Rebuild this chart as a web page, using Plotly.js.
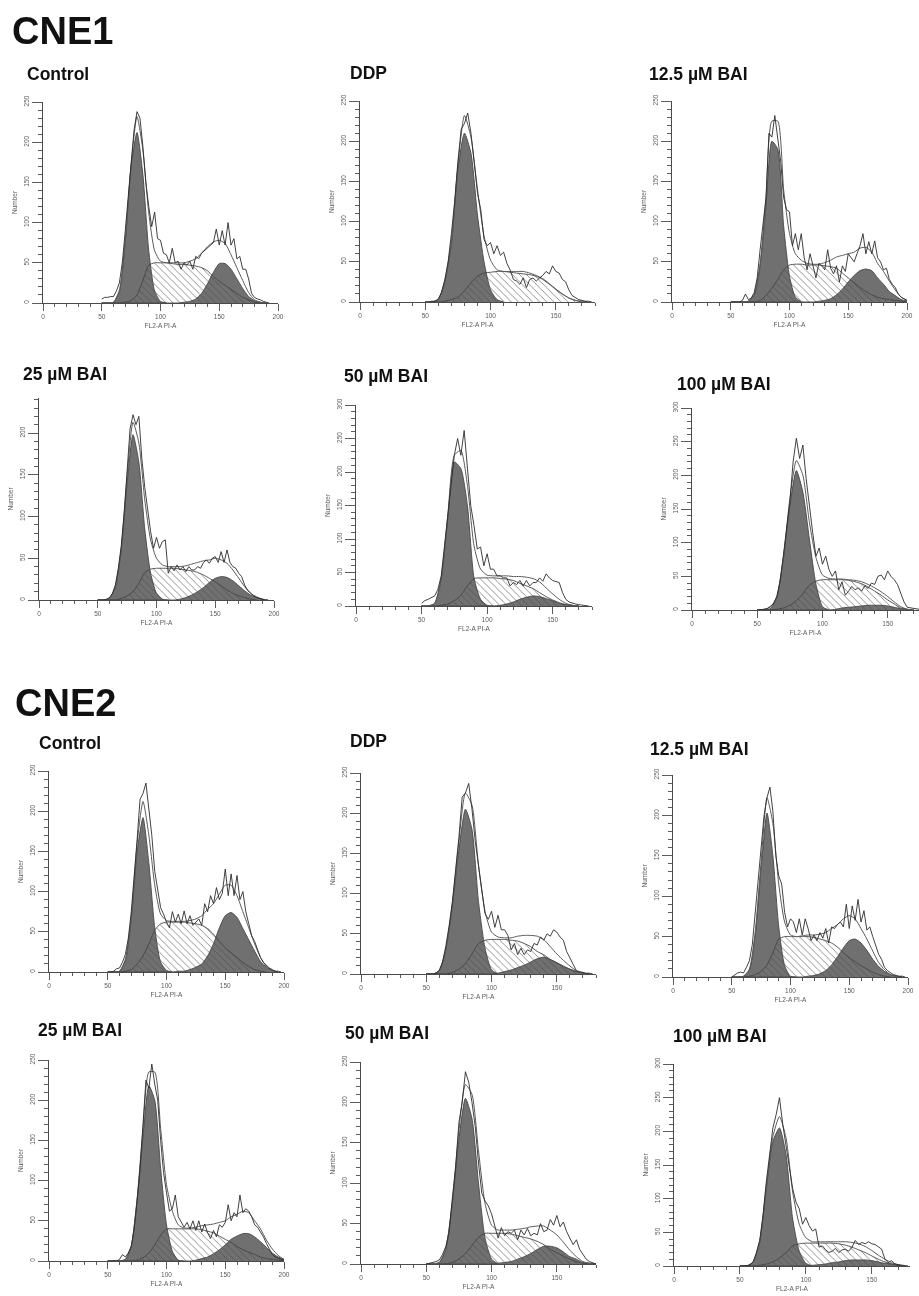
<!DOCTYPE html>
<html><head><meta charset="utf-8">
<script src="https://cdn.plot.ly/plotly-3.0.1.min.js"></script>
<style>html,body{margin:0;padding:0;background:#fff}#chart{width:919px;height:1296px;filter:blur(0.6px)}</style>
</head><body><div id="chart"></div>
<script>
const xModel=[50,55,60,65,70,75,80,85,90,95,100,105,110,115,120,125,130,135,140,145,150,155,160,165,170,175,180,185,190,195,200];
const xHist=[50,52.5,55,57.5,60,62.5,65,67.5,70,72.5,75,77.5,80,82.5,85,87.5,90,92.5,95,97.5,100,102.5,105,107.5,110,112.5,115,117.5,120,122.5,125,127.5,130,132.5,135,137.5,140,142.5,145,147.5,150,152.5,155,157.5,160,162.5,165,167.5,170,172.5,175,177.5,180,182.5,185,187.5,190,192.5,195,197.5,200];
const groupTitles=["CNE1","CNE2"];
const panelTitles=["Control","DDP","12.5 µM BAI","25 µM BAI","50 µM BAI","100 µM BAI","Control","DDP","12.5 µM BAI","25 µM BAI","50 µM BAI","100 µM BAI"];

const p1g1=[0,0,1,14,75,170,212,160,65,15,2,0];
const p1s=[0,0,0,0,1,3,10,28,47,50,50,50,49,48,48,47,46,44,40,33,27,22,17,12,7,4,1,0];
const p1g2=[0,0,0,0,0,0,0,0,0,0,0,0,0,0,1,2,5,12,24,38,49,49,42,30,18,8,3,1,0];
const p1fit=[0,0,1,16,78,172,232,190,112,65,52,50,50,50,50,52,55,62,70,76,78,74,60,44,28,13,4,1,0];
const p1hist=[5,7,7,8,8,15,25,50,90,130,170,215,238,230,195,150,120,95,113,80,78,62,60,50,68,50,52,42,50,47,52,42,58,55,62,65,68,72,75,92,72,90,72,100,72,80,55,58,42,42,30,12,7,5,4,2,1,0];

const p2g1=[0,0,3,25,72,165,210,185,108,50,15,3,0];
const p2s=[0,0,0,1,3,6,14,24,32,36,37,38,38,37,36,35,34,32,28,22,16,10,5,2,1,0];
const p2g2=[];
const p2fit=[0,0,3,27,76,170,232,205,140,82,52,40,38,38,38,38,36,33,29,23,16,10,5,2,0];
const p2hist=[0,0,1,1,4,12,28,50,85,125,175,215,222,235,210,170,135,115,78,70,74,60,70,58,62,48,40,28,26,22,30,18,28,30,26,30,33,38,35,45,38,36,28,25,15,8,5,3,2,1,1,0];

const p3g1=[0,0,0,1,8,45,120,200,190,95,32,6,0];
const p3s=[0,0,0,0,0,2,8,17,28,40,46,47,47,46,46,46,45,44,42,36,30,24,18,13,9,6,4,3,2,1,0];
const p3g2=[0,0,0,0,0,0,0,0,0,0,0,0,0,0,0,1,2,4,9,16,25,33,39,41,39,30,22,13,8,3,1];
const p3fit=[0,0,0,1,10,48,130,225,225,140,85,60,52,48,47,47,49,52,56,58,60,62,67,68,62,48,38,26,15,6,2];
const p3hist=[0,0,0,0,2,10,3,5,12,30,65,95,130,210,205,232,205,175,130,115,112,70,85,65,85,55,40,60,45,30,48,45,40,65,42,35,45,25,45,38,60,55,50,60,70,85,60,75,60,76,55,50,40,42,28,22,18,10,6,4,2];

const p4g1=[0,0,2,15,60,140,198,165,85,32,8,1,0];
const p4s=[0,0,0,0,2,5,10,20,33,37,38,38,38,38,37,36,35,33,30,26,22,17,12,8,5,3,1,0];
const p4g2=[0,0,0,0,0,0,0,0,0,0,0,0,0,0,1,3,6,10,15,21,26,28,27,23,17,11,6,3,1,0];
const p4fit=[0,0,2,16,62,148,213,188,120,72,50,42,40,40,40,41,43,45,47,48,50,48,44,36,26,16,8,4,1,0];
const p4hist=[0,0,0,1,3,8,18,38,65,105,150,205,222,210,220,170,135,105,82,62,75,62,70,72,32,40,35,42,36,40,34,40,36,36,40,38,45,48,44,50,52,45,58,45,60,45,40,38,32,28,18,12,8,5,3,2,1,0];

const p5g1=[0,0,4,40,130,215,205,150,42,10,1,0];
const p5s=[0,0,0,1,3,8,16,30,41,42,42,42,41,40,38,34,30,26,20,14,9,5,2,1,0];
const p5g2=[0,0,0,0,0,0,0,0,0,0,0,0,1,3,6,10,13,15,14,11,8,4,2,1,0];
const p5fit=[0,0,4,42,135,225,232,180,90,55,46,45,45,45,44,44,43,41,36,27,18,10,4,1,0];
const p5hist=[4,8,10,12,15,25,45,90,135,180,225,250,225,262,200,150,120,85,88,60,78,55,55,45,45,42,42,30,35,32,38,30,38,30,35,35,42,37,48,42,38,36,35,20,10,6,4,3,2,1,1,0];

const p6g1=[0,0,2,18,75,155,207,175,105,38,5,0];
const p6s=[0,0,0,1,3,7,14,24,37,43,45,45,45,45,44,42,39,34,28,22,15,9,3,1,0];
const p6g2=[0,0,0,0,0,0,0,0,0,0,0,0,1,3,4,5,6,7,7,7,6,4,2,1,0];
const p6fit=[0,1,4,20,78,165,222,200,130,78,52,47,46,46,45,44,42,38,33,27,20,12,5,1,0];
const p6hist=[0,0,1,2,5,9,20,42,80,120,160,220,255,225,245,195,150,115,80,92,68,80,60,50,58,30,42,22,28,35,30,33,28,36,32,40,38,50,52,45,58,50,45,38,25,12,4,3,2,1,1,0];

const p7g1=[0,0,1,14,65,150,192,135,55,12,2,0];
const p7s=[0,0,0,1,3,10,20,35,52,60,62,62,62,62,61,60,58,54,47,38,30,24,18,12,7,3,1,0];
const p7g2=[0,0,0,0,0,0,0,0,0,0,0,0,1,1,3,6,10,20,35,55,70,74,68,54,40,26,13,6,2,0];
const p7fit=[0,0,1,16,68,160,212,170,108,72,64,63,63,63,64,66,70,78,85,97,108,108,95,75,55,35,18,7,2,0];
const p7hist=[0,0,1,4,5,12,22,42,75,115,165,215,222,235,205,170,125,100,80,72,62,55,75,62,72,60,76,60,70,58,62,66,58,85,75,95,85,105,90,98,128,95,122,95,120,90,100,75,60,45,38,28,18,12,8,5,3,1,1,0];

const p8g1=[0,0,4,30,85,155,205,180,90,32,5,0];
const p8s=[0,0,0,0,2,6,13,25,38,42,43,43,43,42,41,38,34,28,24,18,14,10,6,3,1,0];
const p8g2=[0,0,0,0,0,0,0,0,0,0,0,1,3,5,8,11,15,19,21,18,14,9,6,3,1,0];
const p8fit=[0,0,4,32,88,165,225,210,135,78,52,46,45,45,47,48,48,47,43,34,25,17,10,4,1,0];
const p8hist=[0,0,0,1,5,15,35,60,90,130,170,220,225,237,205,165,135,110,75,68,78,58,73,55,55,48,30,38,24,32,24,30,28,38,36,46,42,50,47,55,52,46,42,28,20,10,4,3,2,1,1,0];

const p9g1=[0,0,1,8,52,135,203,150,62,14,1,0];
const p9s=[0,0,0,1,3,7,15,30,47,50,50,50,50,50,49,47,45,42,37,30,24,19,14,10,6,3,1,0];
const p9g2=[0,0,0,0,0,0,0,0,0,0,0,0,0,1,2,4,8,15,25,36,45,47,42,33,22,13,7,3,1,0];
const p9fit=[0,0,1,10,56,143,222,190,115,68,52,50,51,52,52,53,55,60,65,72,76,72,60,47,32,18,9,3,1,0];
const p9hist=[0,3,5,6,5,12,20,40,80,130,165,200,222,235,205,150,125,115,80,62,72,68,55,72,52,72,60,45,52,45,55,48,60,42,62,60,65,68,62,90,60,88,70,96,68,82,58,62,50,40,28,22,12,8,5,3,2,1,1,0];

const p10g1=[0,0,0,2,18,75,155,218,200,115,45,12,1,0];
const p10s=[0,0,0,0,0,1,4,10,20,32,40,40,40,40,40,40,39,37,35,31,27,23,18,14,11,8,5,3,2,1,0];
const p10g2=[0,0,0,0,0,0,0,0,0,0,0,0,0,0,0,1,3,5,9,14,20,27,31,34,34,30,24,17,10,5,2];
const p10fit=[0,0,0,2,19,78,165,235,235,165,95,62,45,41,41,42,44,45,46,48,50,55,58,62,60,50,40,26,15,7,2];
const p10hist=[0,0,0,0,2,8,5,10,18,40,75,115,170,225,215,245,220,200,150,110,85,62,65,82,55,48,42,48,40,50,38,50,36,46,35,28,38,30,45,42,48,70,50,60,55,82,60,65,62,55,45,42,36,30,22,14,8,5,3,2,1];

const p11g1=[0,0,2,18,75,155,205,180,100,32,6,0];
const p11s=[0,0,0,0,2,6,13,23,33,38,38,38,38,37,35,33,31,28,24,18,14,10,6,3,1,0];
const p11g2=[0,0,0,0,0,0,0,0,0,0,0,1,2,3,6,9,13,18,22,22,20,15,9,6,2,1,0];
const p11fit=[0,0,2,20,78,165,222,210,140,75,48,42,42,42,43,44,46,47,47,42,36,27,17,9,3,1,0];
const p11hist=[0,1,2,3,5,12,22,40,82,120,175,200,238,225,200,170,125,88,78,72,62,48,32,45,35,40,38,42,30,42,36,44,35,38,36,50,40,42,55,48,60,46,52,40,32,24,30,18,12,6,3,1,0];

const p12g1=[0,0,6,35,115,185,205,165,70,22,4,0];
const p12s=[0,0,0,1,3,6,12,20,30,33,34,34,34,34,34,33,31,28,24,20,15,10,6,3,1,0];
const p12g2=[0,0,0,0,0,0,0,0,0,0,0,1,2,3,5,6,8,9,9,9,8,6,4,3,1,0];
const p12fit=[0,0,6,37,118,192,222,190,110,62,42,36,36,36,36,36,36,35,33,29,23,16,10,5,2,0];
const p12hist=[0,0,0,1,6,20,38,75,125,165,205,225,250,210,180,150,115,95,85,62,72,60,52,55,28,30,24,20,22,26,20,24,25,22,28,38,32,35,33,36,33,32,28,25,10,5,8,3,2,1,1,0];

const series=[
 [p1g1,p1s,p1g2,p1fit,p1hist],[p2g1,p2s,p2g2,p2fit,p2hist],[p3g1,p3s,p3g2,p3fit,p3hist],
 [p4g1,p4s,p4g2,p4fit,p4hist],[p5g1,p5s,p5g2,p5fit,p5hist],[p6g1,p6s,p6g2,p6fit,p6hist],
 [p7g1,p7s,p7g2,p7fit,p7hist],[p8g1,p8s,p8g2,p8fit,p8hist],[p9g1,p9s,p9g2,p9fit,p9hist],
 [p10g1,p10s,p10g2,p10fit,p10hist],[p11g1,p11s,p11g2,p11fit,p11hist],[p12g1,p12s,p12g2,p12fit,p12hist]
];

// layout: pixel boxes [x at 0, x at xMax, xMax, y at 0, y at yMax, yMax]
const W=919,H=1296;
const boxes=[
 [43,278,200,303,102,250],[360,595,180,302,101,250],[672,907,200,302,101,250],
 [39,274,200,600,398,242],[356,592,180,606,405,300],[692,919,174,610,408,300],
 [49,284,200,972,771,250],[361,596,180,974,773,250],[673,908,200,977,775,250],
 [49,284,200,1261,1060,250],[361,596,180,1264,1062,250],[674,910,179,1266,1064,300]
];
const titlePos=[[25,74],[348,73],[647,74],[21,374],[342,376],[675,384],[37,743],[348,741],[648,749],[36,1030],[343,1033],[671,1036]];
const groupPos=[[10,31],[13,703]];

const darkFill='#707070',edge='#444',axisCol='#4a4a4a',tickCol='#5c5c5c',font='"Liberation Sans",Arial,sans-serif',small='#5a5a5a';
const traces=[];
const layout={width:W,height:H,margin:{l:0,r:0,t:0,b:0},paper_bgcolor:'#fff',plot_bgcolor:'rgba(0,0,0,0)',showlegend:false,annotations:[]};

series.forEach((s,i)=>{
  const n=i===0?'':String(i+1), xa='x'+n, ya='y'+n;
  const b=boxes[i];
  const common={xaxis:xa,yaxis:ya,hoverinfo:'skip',mode:'lines'};
  const smooth={shape:'spline',smoothing:0.6};
  [s[0],s[2]].forEach(v=>{ if(v.length) traces.push({...common,x:xModel.slice(0,v.length),y:v,fill:'tozeroy',fillcolor:darkFill,line:{color:edge,width:0.9,...smooth}}); });
  traces.push({...common,x:xModel.slice(0,s[1].length),y:s[1],fill:'tozeroy',fillcolor:'rgba(0,0,0,0)',
    fillpattern:{shape:'\\',size:5,solidity:0.12,fgcolor:'#4a4a4a',bgcolor:'rgba(0,0,0,0)'},line:{color:edge,width:0.9,...smooth}});
  traces.push({...common,x:xModel.slice(0,s[3].length),y:s[3],line:{color:'#5a5a5a',width:1,...smooth}});
  traces.push({...common,x:xHist.slice(0,s[4].length),y:s[4],line:{color:'#2c2c2c',width:0.9}});

  layout['xaxis'+n]={domain:[b[0]/W,b[1]/W],range:[0,b[2]],anchor:ya,dtick:50,tick0:0,ticks:'outside',ticklen:7,tickwidth:1,tickcolor:tickCol,
    showline:true,linecolor:axisCol,linewidth:1.4,showgrid:false,zeroline:false,tickfont:{family:font,size:6.5,color:small},
    minor:{dtick:10,tick0:0,ticks:'outside',ticklen:3,tickwidth:1,tickcolor:tickCol,showgrid:false},
    title:{text:'FL2-A PI-A',font:{family:font,size:6.5,color:small},standoff:4}};
  layout['yaxis'+n]={domain:[1-b[3]/H,1-b[4]/H],range:[0,b[5]],anchor:xa,dtick:50,tick0:0,ticks:'outside',ticklen:10,tickwidth:1,tickcolor:tickCol,
    showline:true,linecolor:axisCol,linewidth:1.4,showgrid:false,zeroline:false,tickangle:-90,tickfont:{family:font,size:6.5,color:small},
    minor:{dtick:10,tick0:0,ticks:'outside',ticklen:4,tickwidth:1,tickcolor:tickCol,showgrid:false},
    title:{text:'Number',font:{family:font,size:6.5,color:small},standoff:4}};
  layout.annotations.push({xref:'paper',yref:'paper',x:titlePos[i][0]/W,y:1-titlePos[i][1]/H,xanchor:'left',yanchor:'middle',showarrow:false,
    text:'<b>'+panelTitles[i]+'</b>',font:{family:font,size:17.5,color:'#111'}});
});
groupTitles.forEach((t,i)=>layout.annotations.push({xref:'paper',yref:'paper',x:groupPos[i][0]/W,y:1-groupPos[i][1]/H,xanchor:'left',yanchor:'middle',showarrow:false,
  text:'<b>'+t+'</b>',font:{family:font,size:38,color:'#111'}}));
Plotly.newPlot('chart',traces,layout,{staticPlot:true,displayModeBar:false});
</script></body></html>
